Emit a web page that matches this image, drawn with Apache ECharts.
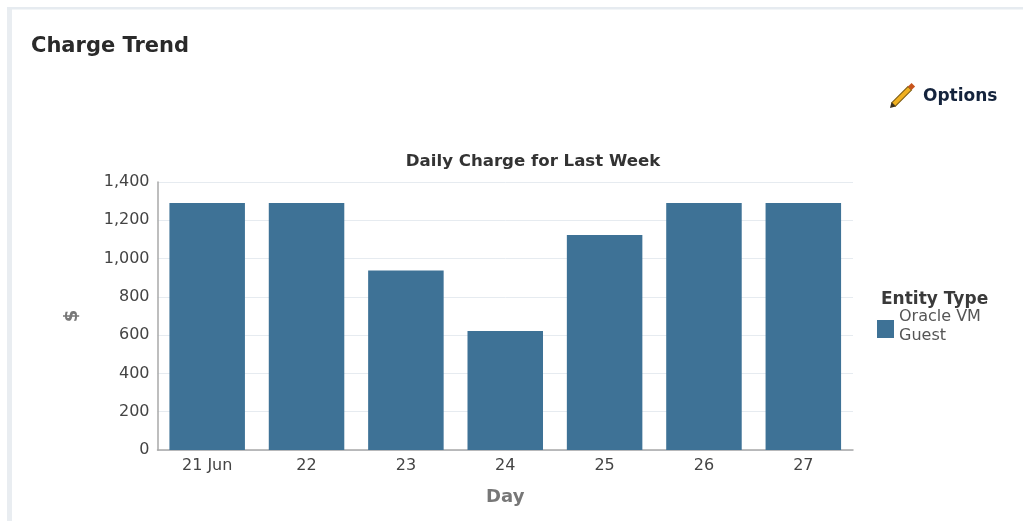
<!DOCTYPE html>
<html><head><meta charset="utf-8">
<style>
html,body{margin:0;padding:0;background:#fff;}
#c{width:1023px;height:521px;}
</style>
<script src="https://cdn.jsdelivr.net/npm/echarts@6/dist/echarts.min.js"></script>
</head><body><div id="c"></div>
<script>
const categories = ['21 Jun','22','23','24','25','26','27'];
const charges = [1290,1290,938,622,1123,1290,1290];
const yTicks = {min:0,max:1400,interval:200};
const seriesName = 'Oracle VM\nGuest';
const font = '"DejaVu Sans"';
const chart = echarts.init(document.getElementById('c'),null,{renderer:'canvas'});
chart.setOption({
  animation:false,
  backgroundColor:'#fff',
  title:[
    {text:'Charge Trend',left:31,top:36,padding:0,textStyle:{fontFamily:font,fontSize:21,fontWeight:'bold',color:'#2a2a2a'}},
    {text:'Daily Charge for Last Week',left:533,textAlign:'center',top:153,padding:0,textStyle:{fontFamily:font,fontSize:16.6,fontWeight:'bold',color:'#333'}},
    {text:'Entity Type',left:881,top:291,padding:0,textStyle:{fontFamily:font,fontSize:17,fontWeight:'bold',color:'#3a3a3a'}}
  ],
  grid:{left:157.5,right:170,top:182,bottom:71,containLabel:false},
  legend:{left:877,top:307,padding:0,orient:'vertical',itemWidth:17,itemHeight:24,itemGap:0,
    icon:'path://M0 0L0 0M0 6H17V24H0Z',
    data:[seriesName],selectedMode:false,
    textStyle:{fontFamily:font,fontSize:16,lineHeight:19,color:'#555'}},
  xAxis:{type:'category',data:categories,name:'Day',nameLocation:'middle',nameGap:38,
    nameTextStyle:{fontFamily:font,fontSize:18,fontWeight:'bold',color:'#777'},
    axisLine:{lineStyle:{color:'#a8a8a8',width:1.5}},axisTick:{show:false},
    axisLabel:{fontFamily:font,fontSize:16,color:'#444',margin:8}},
  yAxis:{type:'value',min:yTicks.min,max:yTicks.max,interval:yTicks.interval,
    name:'$',nameLocation:'middle',nameGap:76,nameRotate:90,
    nameTextStyle:{fontFamily:font,fontSize:18,fontWeight:'bold',color:'#777'},
    axisLine:{show:true,lineStyle:{color:'#a8a8a8',width:1.5}},axisTick:{show:false},
    axisLabel:{fontFamily:font,fontSize:16,color:'#444',margin:8,
      formatter:v=>v.toLocaleString('en-US')},
    splitLine:{lineStyle:{color:'#e6ebf0',width:1}}},
  series:[{name:seriesName,type:'bar',data:charges,barWidth:'76%',
    itemStyle:{color:'#3e7296'}}],
  graphic:[
    {type:'rect',shape:{x:7,y:7,width:5,height:514},style:{fill:'#e9edf1'},silent:true},
    {type:'rect',shape:{x:7,y:7,width:1016,height:2.5},style:{fill:'#e6ebf0'},silent:true},
    {type:'group',x:890,y:108,rotation:Math.PI/4,children:[
      {type:'rect',shape:{x:5,y:-2.5,width:23,height:5},style:{fill:'#f0b020',stroke:'#7a5a10',lineWidth:1}},
      {type:'rect',shape:{x:28,y:-2.5,width:5,height:5},style:{fill:'#c8541c'}},
      {type:'polygon',shape:{points:[[0,0],[5,-3],[5,3]]},style:{fill:'#3a3020'}}
    ]},
    {type:'text',left:923,top:88,style:{text:'Options',fontFamily:font,fontSize:17,fontWeight:'bold',fill:'#14233c'}}
  ]
});
</script></body></html>
